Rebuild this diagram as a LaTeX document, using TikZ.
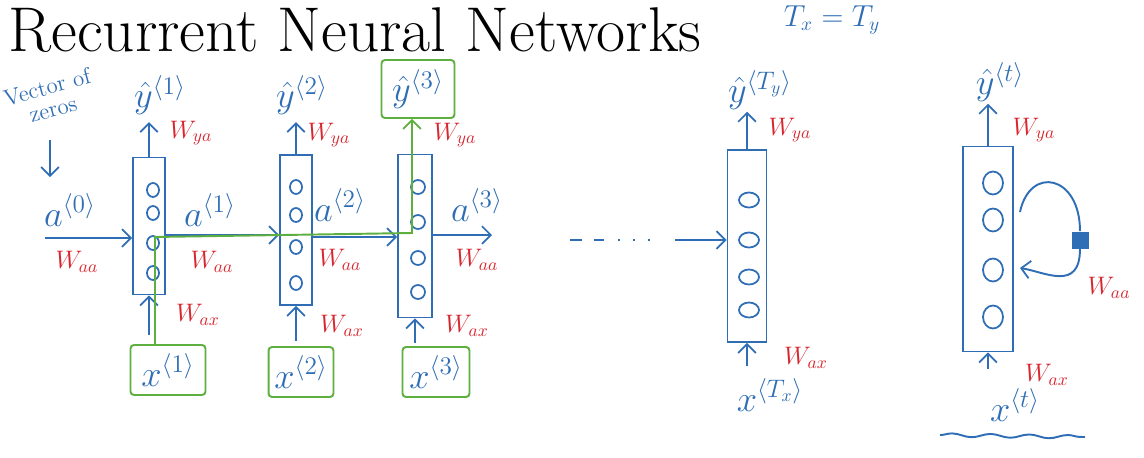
\documentclass[tikz,border=0pt]{standalone}
\usepackage{fontspec}
\usepackage{amsmath}
\usetikzlibrary{positioning, arrows.meta, shapes.geometric, calc, decorations.pathmorphing}
\definecolor{penblue}{HTML}{2F6EB5}
\definecolor{penred}{HTML}{D8262E}
\definecolor{pengreen}{HTML}{5DB040}

\begin{document}
\begin{tikzpicture}[
    x=0.02cm, y=-0.02cm,
    cell/.style={rectangle, draw=penblue, line width=1.1pt, minimum width=0.64cm, inner sep=0pt},
    unit/.style={ellipse, draw=penblue, line width=1pt, minimum width=0.24cm, minimum height=0.28cm, inner sep=0pt},
    hand/.style={text=penblue, font=\fontsize{20}{22}\selectfont, inner sep=1pt},
    weight/.style={text=penred, font=\fontsize{14}{16}\selectfont, inner sep=1pt},
    inbox/.style={draw=pengreen, line width=1.1pt, minimum height=1cm, rounded corners=2pt, text=penblue, font=\fontsize{20}{22}\selectfont},
    pen/.style={penblue, line width=1.1pt},
    arrow/.style={-{Straight Barb[length=5pt, width=10pt, line width=1pt]}, penblue, line width=1.1pt},
    fwd/.style={-{Straight Barb[length=5pt, width=10pt, line width=1pt]}, pengreen, line width=1.1pt}
]
\useasboundingbox (0,0) rectangle (1144,457);

% ==================== TITLE ====================
\node[anchor=base west, font=\fontsize{36}{38}\selectfont, inner sep=0pt] (title) at (8,51) {Recurrent Neural Networks};
\node[hand, font=\fontsize{16}{18}\selectfont] (tcond) at (832,20) {$T_x = T_y$};

% ==================== CELLS ====================
\node[cell, minimum height=2.74cm] (cellA) at (149,226) {};
\node[cell, minimum height=3.0cm] (cellB) at (296,230) {};
\node[cell, minimum height=3.26cm, minimum width=0.68cm] (cellC) at (415,236) {};
\node[cell, minimum height=3.84cm, minimum width=0.78cm] (cellTy) at (747,246) {};
\node[cell, minimum height=4.1cm, minimum width=1cm] (cellT) at (988,249) {};

\foreach \yy [count=\i] in {190,213,243,273} \node[unit] (cellA-\i) at (153,\yy) {};
\foreach \yy [count=\i] in {187,215,247,283} \node[unit] (cellB-\i) at (296,\yy) {};
\foreach \yy [count=\i] in {187,222,258,292} \node[unit, minimum width=0.28cm] (cellC-\i) at (418,\yy) {};
\foreach \yy [count=\i] in {200,240,277,310} \node[unit, minimum width=0.4cm, minimum height=0.3cm] (cellTy-\i) at (749,\yy) {};
\foreach \yy [count=\i] in {183,220,270,317} \node[unit, minimum width=0.4cm, minimum height=0.46cm] (cellT-\i) at (993,\yy) {};

% ==================== OUTPUTS ====================
\node[hand] (yA) at (160,95) {$\hat{y}^{\langle 1\rangle}$};
\node[hand] (yB) at (302,95) {$\hat{y}^{\langle 2\rangle}$};
\node[inbox, minimum width=1.46cm, minimum height=1.16cm] (yC) at (418,89) {$\hat{y}^{\langle 3\rangle}$};
\node[hand] (yTy) at (760,90) {$\hat{y}^{\langle T_y\rangle}$};
\node[hand] (yT) at (1000,82) {$\hat{y}^{\langle t\rangle}$};

\draw[arrow, shorten >=3pt] (cellA.north) -- (cellA.north |- yA.south);
\draw[arrow, shorten >=3pt] (cellB.north) -- (cellB.north |- yB.south);
\draw[arrow] (cellTy.north) -- (cellTy.north |- yTy.south);
\draw[arrow] (cellT.north) -- (cellT.north |- yT.south);

\node[weight] (wyaA) at (191,133) {$W_{ya}$};
\node[weight] (wyaB) at (329,135) {$W_{ya}$};
\node[weight] (wyaC) at (455,135) {$W_{ya}$};
\node[weight] (wyaTy) at (790,130) {$W_{ya}$};
\node[weight] (wyaT) at (1034,130) {$W_{ya}$};

% ==================== INPUTS ====================
\node[inbox, minimum width=1.5cm] (xA) at (168,370) {$x^{\langle 1\rangle}$};
\node[inbox, minimum width=1.16cm] (xB) at (301,372) {$x^{\langle 2\rangle}$};
\node[inbox, minimum width=1.34cm] (xC) at (436,372) {$x^{\langle 3\rangle}$};
\node[hand] (xTy) at (770,395) {$x^{\langle T_x\rangle}$};
\node[hand] (xT) at (1015,405) {$x^{\langle t\rangle}$};

\draw[arrow, shorten <=5pt] (cellA.south |- xA.north) -- (cellA.south);
\draw[arrow, shorten <=3pt] (cellB.south |- xB.north) -- (cellB.south);
\draw[arrow, shorten <=2pt] (cellC.south |- xC.north) -- (cellC.south);
\draw[arrow, shorten <=6pt] (cellTy.south |- xTy.north) -- (cellTy.south);
\draw[arrow, shorten <=10pt] (cellT.south |- xT.north) -- (cellT.south);

\node[weight] (waxA) at (198,315) {$W_{ax}$};
\node[weight] (waxB) at (342,326) {$W_{ax}$};
\node[weight] (waxC) at (467,326) {$W_{ax}$};
\node[weight] (waxTy) at (806,358) {$W_{ax}$};
\node[weight] (waxT) at (1047,375) {$W_{ax}$};

% ==================== ACTIVATIONS ====================
\node[hand, font=\fontsize{13}{13}\selectfont, align=center, rotate=15] (zeros) at (50,98) {Vector of\\zeros};
\coordinate (zerotail) at (50,140);
\coordinate (zerotip) at (50,177);
\draw[arrow] (zerotail) -- (zerotip);

\node[hand] (aZ) at (70,210) {$a^{\langle 0\rangle}$};
\node[hand] (aA) at (210,210) {$a^{\langle 1\rangle}$};
\node[hand] (aB) at (340,205) {$a^{\langle 2\rangle}$};
\node[hand] (aC) at (477,205) {$a^{\langle 3\rangle}$};

\coordinate (aZstart) at (45,238);
\coordinate (rowA) at (0,235);
\coordinate (rowB) at (0,237);
\coordinate (aCend) at (492,235);
\draw[arrow] (aZstart) -- (aZstart -| cellA.west);
\draw[arrow] (rowA -| cellA.east) -- (rowA -| cellB.west);
\draw[arrow] (rowB -| cellB.east) -- (rowB -| cellC.west);
\draw[arrow] (aCend -| cellC.east) -- (aCend);

\node[weight] (waaZ) at (77,262) {$W_{aa}$};
\node[weight] (waaA) at (212,262) {$W_{aa}$};
\node[weight] (waaB) at (340,260) {$W_{aa}$};
\node[weight] (waaC) at (477,260) {$W_{aa}$};

% dots towards the last step
\coordinate (dotsA) at (570,240);
\coordinate (dotsB) at (660,240);
\coordinate (tyin) at (675,240);
\draw[pen, dash pattern=on 6.8pt off 6.8pt on 5.7pt off 8pt on 1.2pt off 7.4pt on 1.2pt off 7.4pt on 1.2pt off 50pt] (dotsA) -- (dotsB);
\draw[arrow] (tyin) -- (tyin -| cellTy.west);

% ==================== FORWARD PATH ====================
\coordinate (gturnA) at (155,237);
\coordinate (gturnB) at (412,233);
\draw[fwd] (gturnA |- xA.north) -- (gturnA) -- (gturnB) -- (gturnB |- yC.south);

% ==================== LOOP ====================
\coordinate (loopout) at (1020,212);
\coordinate (loopin) at (1020,268);
\node[rectangle, fill=penblue, minimum size=0.34cm, inner sep=0pt] (delay) at (1080,240) {};
\draw[pen] (loopout) .. controls (1030,165) and (1080,175) .. (delay.north);
\draw[arrow] (delay.south) .. controls (1080,292) and (1045,272) .. (loopin);
\node[weight] (waaT) at (1109,288) {$W_{aa}$};

\coordinate (waveA) at (940,435);
\coordinate (waveB) at (1085,437);
\draw[pen, decorate, decoration={snake, amplitude=1pt, segment length=22pt}] (waveA) -- (waveB);

\end{tikzpicture}
\end{document}
